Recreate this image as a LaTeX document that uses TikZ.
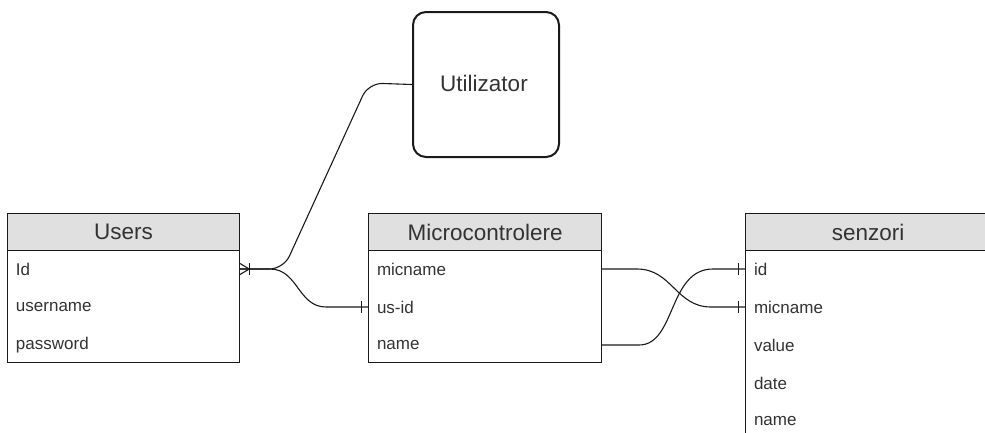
\documentclass[tikz,border=0pt]{standalone}
\usepackage{fontspec}
\setmainfont{Liberation Sans}
\definecolor{txt}{HTML}{333333}
\definecolor{hdrfill}{HTML}{E0E0E0}
\definecolor{ln}{HTML}{1A1A1A}
\begin{document}
\begin{tikzpicture}[x=1pt,y=-1pt,
  hdr/.style={draw=ln, fill=hdrfill, line width=1.1pt, minimum height=37pt, minimum width=#1, inner sep=0pt, anchor=north west, text=txt, font=\fontsize{22.5}{26}\selectfont},
  tbody/.style={draw=ln, fill=white, line width=1.1pt, minimum width=#1, minimum height=112pt, inner sep=0pt, anchor=north west},
  rowtxt/.style={text width=#1-18pt, inner xsep=9pt, inner ysep=0pt, minimum height=38pt, align=left, text=txt, font=\fontsize{17}{20}\selectfont},
  conn/.style={draw=ln, line width=1.1pt},
  bar/.style={draw=ln, line width=1.1pt}]
\useasboundingbox (0,0) rectangle (985,432);
\clip (0,0) rectangle (985,432);
% Utilizator
\node[draw=ln, line width=2pt, rounded corners=13pt, minimum width=146pt, minimum height=145pt, inner sep=0pt, anchor=north west, text=txt, font=\fontsize{22.5}{26}\selectfont] (util) at (412,11) {};
\node[text=txt, font=\fontsize{22.5}{26}\selectfont, inner sep=0pt] (utiltxt) at (484,83) {Utilizator};
% Users
\node[tbody=232pt] (ubody) at (7,250) {};
\node[hdr=232pt] (uhdr) at (7,213) {Users};
\node[rowtxt=232pt] (uid) at (123,269) {Id};
\node[rowtxt=232pt] (uuser) at (123,307) {username};
\node[rowtxt=232pt] (upass) at (123,345) {password};
% Microcontrolere
\node[tbody=233pt] (mbody) at (368,250) {};
\node[hdr=233pt] (mhdr) at (368,213) {Microcontrolere};
\node[rowtxt=233pt] (mmic) at (484.5,269) {micname};
\node[rowtxt=233pt] (musid) at (484.5,307) {us-id};
\node[rowtxt=233pt] (mname) at (484.5,345) {name};
% senzori
\node[draw=ln, fill=white, line width=1.1pt, minimum width=245pt, minimum height=200pt, inner sep=0pt, anchor=north west] (sbody) at (745,250) {};
\node[hdr=245pt] (shdr) at (745,213) {senzori};
\node[rowtxt=245pt] (sid) at (867.5,269) {id};
\node[rowtxt=245pt] (smic) at (867.5,307) {micname};
\node[rowtxt=245pt] (sval) at (867.5,345) {value};
\node[rowtxt=245pt] (sdate) at (867.5,383) {date};
\node[rowtxt=245pt] (sname) at (867.5,421) {name};
% connectors
\draw[conn, rounded corners=14pt] (uid.east) -- (283.5,269) -- (368.5,83) -- (util.west);
\draw[conn] (uid.east) -- (270,269) .. controls (298,269) and (298,307) .. (326,307) -- (musid.west);
\draw[conn] (mmic.east) -- (637,269) .. controls (672,269) and (676,307) .. (711,307) -- (smic.west);
\draw[conn] (mname.east) -- (639,345) .. controls (676,345) and (668,269) .. (713,269) -- (sid.west);
% markers
\draw[bar] ([xshift=-6pt]musid.west) ++(0,-6) -- ++(0,12);
\draw[bar] ([xshift=-6pt]sid.west) ++(0,-6) -- ++(0,12);
\draw[bar] ([xshift=-6pt]smic.west) ++(0,-6) -- ++(0,12);
\draw[bar] ([xshift=10pt]uid.east) ++(0,-6) -- ++(0,12);
\draw[bar] ([yshift=-6pt]uid.east) -- ([xshift=10pt]uid.east) -- ([yshift=6pt]uid.east);
\end{tikzpicture}
\end{document}
